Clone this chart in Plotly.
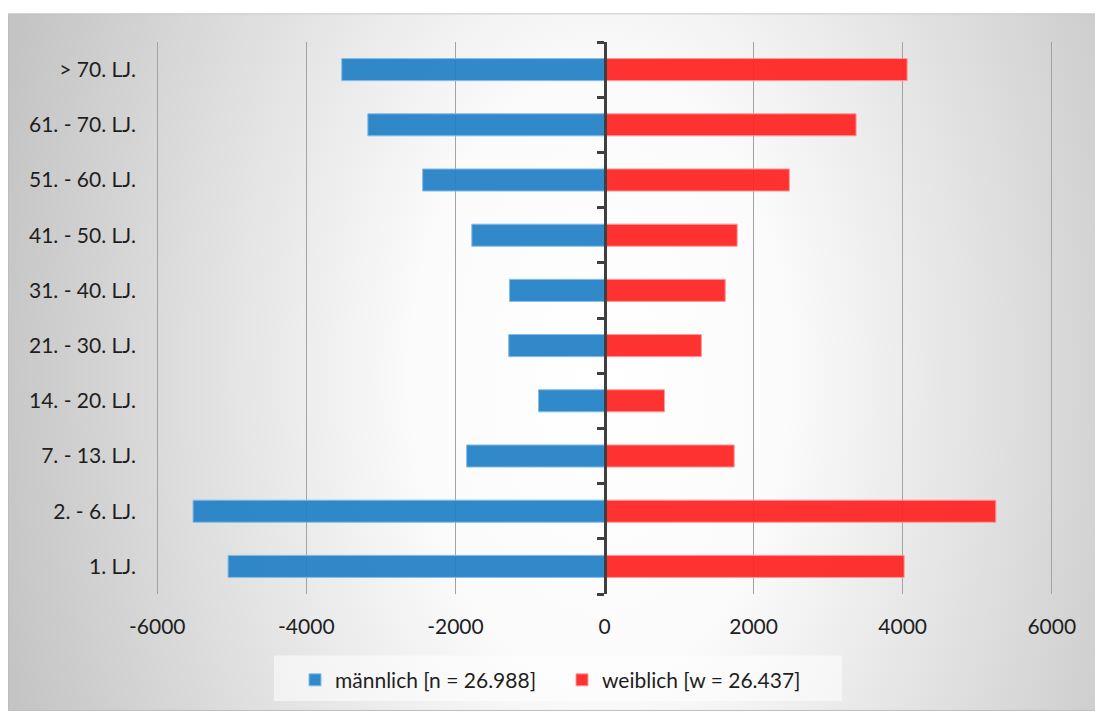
import base64
import plotly.graph_objects as go

# ---------------- data ----------------
age_groups = ["1. LJ.", "2. - 6. LJ.", "7. - 13. LJ.", "14. - 20. LJ.", "21. - 30. LJ.",
              "31. - 40. LJ.", "41. - 50. LJ.", "51. - 60. LJ.", "61. - 70. LJ.", "> 70. LJ."]
male = [-5050, -5520, -1850, -885, -1285, -1275, -1780, -2440, -3175, -3525]
female = [4020, 5250, 1740, 805, 1300, 1620, 1780, 2480, 3375, 4060]
male_name = "männlich [n = 26.988]"
female_name = "weiblich [w = 26.437]"
x_tickvals = [-6000, -4000, -2000, 0, 2000, 4000, 6000]
x_ticktext = ["-6000", "-4000", "-2000", "0", "2000", "4000", "6000"]

# ---------------- layout geometry (pixels) ----------------
W, H = 1095, 713
ML, MR, MT, MB = 155, 41, 42, 114
PW, PH = W - ML - MR, H - MT - MB


def px_x(p):
    return (p - ML) / PW


def px_y(p):
    return (H - MB - p) / PH


# radial grey background (chart area) as an SVG image
bg_x0, bg_y0 = 8, 13
bw, bh = W - bg_x0 + 4, H - bg_y0 + 4
svg = (
    f"<svg xmlns='http://www.w3.org/2000/svg' width='{bw}' height='{bh}' "
    f"viewBox='0 0 {bw} {bh}' preserveAspectRatio='none'>"
    "<defs><radialGradient id='g' gradientUnits='userSpaceOnUse' cx='0' cy='0' r='1' "
    f"gradientTransform='translate({600 - bg_x0},{380 - bg_y0}) scale(620,1000)'>"
    "<stop offset='0' stop-color='#ffffff'/>"
    "<stop offset='0.3' stop-color='#fbfbfb'/>"
    "<stop offset='1' stop-color='#c4c4c4'/>"
    "</radialGradient></defs>"
    f"<rect x='0.5' y='0.5' width='{bw - 1}' height='{bh - 1}' fill='url(#g)' "
    "stroke='#bdbdbd' stroke-width='1'/></svg>"
)
svg_uri = "data:image/svg+xml;base64," + base64.b64encode(svg.encode()).decode()

FONT = "Lato, 'Open Sans', sans-serif"
TXT = "#1e1e1e"

fig = go.Figure()
fig.add_trace(go.Bar(
    y=age_groups, x=male, orientation="h", name=male_name, width=0.4,
    marker=dict(color="rgba(34,128,198,0.93)", line=dict(color="#86bde6", width=1)),
    yaxis="y",
))
fig.add_trace(go.Bar(
    y=age_groups, x=female, orientation="h", name=female_name, width=0.4,
    marker=dict(color="rgba(255,34,34,0.93)", line=dict(color="#ff9a9a", width=1)),
    yaxis="y2",
))

fig.update_layout(
    width=W, height=H,
    margin=dict(l=ML, r=MR, t=MT, b=MB, pad=0),
    paper_bgcolor="white",
    plot_bgcolor="rgba(0,0,0,0)",
    barmode="overlay",
    font=dict(family=FONT, size=21, color=TXT),
    xaxis=dict(
        range=[-6030, 6030], tickvals=x_tickvals, ticktext=x_ticktext,
        showgrid=True, gridcolor="#a3a3a3", gridwidth=1,
        zeroline=False, showline=False, ticks="", ticklabelstandoff=18,
        tickfont=dict(family=FONT, size=21, color=TXT),
    ),
    yaxis=dict(
        categoryorder="array", categoryarray=age_groups, range=[-0.5, len(age_groups) - 0.5],
        showgrid=False, zeroline=False, showline=False, ticks="",
        ticklabelstandoff=18, tickfont=dict(family=FONT, size=21, color=TXT),
    ),
    yaxis2=dict(
        categoryorder="array", categoryarray=age_groups, range=[-0.5, len(age_groups) - 0.5],
        overlaying="y", anchor="free", position=0.5, side="left",
        showgrid=False, zeroline=False, showline=True, linecolor="#404040", linewidth=3,
        ticks="outside", tickson="boundaries", ticklen=7, tickwidth=3, tickcolor="#404040",
        showticklabels=False,
    ),
    legend=dict(
        orientation="h", x=px_x(562), xanchor="center", y=px_y(686), yanchor="middle",
        bgcolor="rgba(0,0,0,0)", font=dict(family=FONT, size=21, color=TXT),
        traceorder="normal", entrywidth=222, entrywidthmode="pixels",
    ),
    showlegend=True,
    images=[dict(
        source=svg_uri, xref="paper", yref="paper",
        x=px_x(bg_x0), y=px_y(bg_y0), sizex=bw / PW, sizey=bh / PH,
        xanchor="left", yanchor="top", sizing="stretch", layer="below",
    )],
    shapes=[dict(
        type="rect", xref="paper", yref="paper", layer="below",
        x0=px_x(274), x1=px_x(842), y0=px_y(707), y1=px_y(661),
        fillcolor="rgba(255,255,255,0.55)", line=dict(width=0),
    )],
)

fig.write_html("out.html")
